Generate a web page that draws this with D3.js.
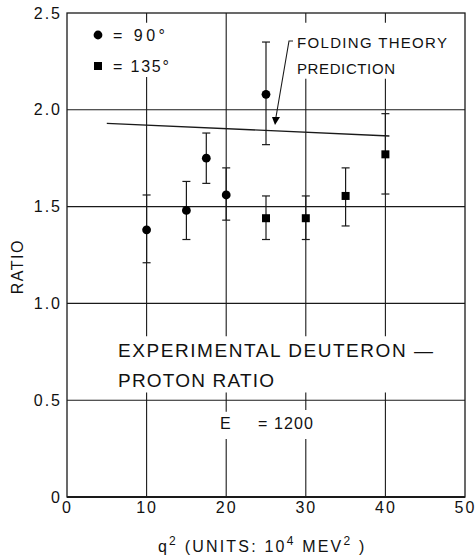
<!DOCTYPE html>
<html>
<head>
<meta charset="utf-8">
<script src="https://cdn.jsdelivr.net/npm/d3@7"></script>
<style>
  body { margin: 0; background: #fff; }
  svg { display: block; }
  text { font-family: "Liberation Sans", Arial, sans-serif; fill: #111; }
</style>
</head>
<body>
<div id="chart"></div>
<script>
// 90 degree points (circles)
var q2_90 = [10, 15, 17.5, 20, 25];
var ratio_90 = [1.38, 1.48, 1.75, 1.56, 2.08];
var lo_90 = [1.21, 1.33, 1.62, 1.43, 1.82];
var hi_90 = [1.56, 1.63, 1.88, 1.70, 2.35];

// 135 degree points (squares)
var q2_135 = [25, 30, 35, 40];
var ratio_135 = [1.44, 1.44, 1.555, 1.77];
var lo_135 = [1.33, 1.33, 1.40, 1.565];
var hi_135 = [1.555, 1.555, 1.70, 1.98];

// folding theory prediction
var theory_q2 = [5, 40.5];
var theory_ratio = [1.93, 1.865];

var xTicks = [0, 10, 20, 30, 40, 50];
var yTicks = [0, 0.5, 1.0, 1.5, 2.0, 2.5];
var yTickLabels = ["0", "0.5", "1.0", "1.5", "2.0", "2.5"];

var W = 475, H = 559;
var margin = {top: 13, right: 10, bottom: 62, left: 67};
var width = W - margin.left - margin.right;
var height = H - margin.top - margin.bottom;

var x = d3.scaleLinear().domain([0, 50]).range([0, width]);
var y = d3.scaleLinear().domain([0, 2.5]).range([height, 0]);

var svg = d3.select("#chart").append("svg")
    .attr("width", W)
    .attr("height", H)
  .append("g")
    .attr("transform", "translate(" + margin.left + "," + margin.top + ")");

var ink = "#1a1a1a";

// horizontal grid lines
svg.selectAll(".hgrid")
    .data([0.5, 1.0, 1.5, 2.0])
  .enter().append("line")
    .attr("x1", 0).attr("x2", width)
    .attr("y1", function(d) { return y(d); })
    .attr("y2", function(d) { return y(d); })
    .attr("stroke", ink).attr("stroke-width", 1.1);

// vertical grid lines, broken where the lettering sits
var vgrid = [
  {q: 10, segs: [[2.5, 2.45], [2.17, 0.83], [0.54, 0]]},
  {q: 20, segs: [[2.5, 0.83], [0.54, 0.44], [0.30, 0]]},
  {q: 30, segs: [[2.5, 2.45], [2.16, 0.83], [0.54, 0.45], [0.30, 0]]},
  {q: 40, segs: [[2.5, 2.45], [2.16, 0.83], [0.54, 0]]}
];
vgrid.forEach(function(g) {
  g.segs.forEach(function(s) {
    svg.append("line")
        .attr("x1", x(g.q)).attr("x2", x(g.q))
        .attr("y1", y(s[0])).attr("y2", y(s[1]))
        .attr("stroke", ink).attr("stroke-width", 1.1);
  });
});

// frame
svg.append("rect")
    .attr("x", 0).attr("y", 0)
    .attr("width", width).attr("height", height)
    .attr("fill", "none")
    .attr("stroke", ink).attr("stroke-width", 1.3);
svg.append("line")
    .attr("x1", 0).attr("x2", width)
    .attr("y1", height).attr("y2", height)
    .attr("stroke", ink).attr("stroke-width", 2.2);

// axes (labels only, the frame draws the lines)
var xAxis = svg.append("g")
    .attr("transform", "translate(0," + height + ")")
    .call(d3.axisBottom(x).tickValues(xTicks).tickSize(0).tickPadding(5));
xAxis.select(".domain").remove();
xAxis.selectAll("text")
    .style("font-size", "16px")
    .style("letter-spacing", "2px")
    .style("font-family", "'Liberation Sans', Arial, sans-serif");

var yAxis = svg.append("g")
    .call(d3.axisLeft(y).tickValues(yTicks).tickSize(0).tickPadding(5)
      .tickFormat(function(d, i) { return yTickLabels[i]; }));
yAxis.select(".domain").remove();
yAxis.selectAll("text")
    .style("font-size", "16px")
    .style("letter-spacing", "2px")
    .style("font-family", "'Liberation Sans', Arial, sans-serif");

// theory line
var line = d3.line()
    .x(function(d) { return x(d[0]); })
    .y(function(d) { return y(d[1]); });
svg.append("path")
    .datum(d3.zip(theory_q2, theory_ratio))
    .attr("d", line)
    .attr("fill", "none")
    .attr("stroke", ink).attr("stroke-width", 1.4);

// error bars
function errorBars(qs, lo, hi) {
  var cap = 4;
  qs.forEach(function(q, i) {
    var g = svg.append("g").attr("stroke", ink).attr("stroke-width", 1.2);
    g.append("line").attr("x1", x(q)).attr("x2", x(q))
        .attr("y1", y(hi[i])).attr("y2", y(lo[i]));
    g.append("line").attr("x1", x(q) - cap).attr("x2", x(q) + cap)
        .attr("y1", y(hi[i])).attr("y2", y(hi[i]));
    g.append("line").attr("x1", x(q) - cap).attr("x2", x(q) + cap)
        .attr("y1", y(lo[i])).attr("y2", y(lo[i]));
  });
}
errorBars(q2_90, lo_90, hi_90);
errorBars(q2_135, lo_135, hi_135);

svg.selectAll(".pt90")
    .data(d3.zip(q2_90, ratio_90))
  .enter().append("circle")
    .attr("cx", function(d) { return x(d[0]); })
    .attr("cy", function(d) { return y(d[1]); })
    .attr("r", 4.4)
    .attr("fill", "#000");

svg.selectAll(".pt135")
    .data(d3.zip(q2_135, ratio_135))
  .enter().append("rect")
    .attr("x", function(d) { return x(d[0]) - 4; })
    .attr("y", function(d) { return y(d[1]) - 4; })
    .attr("width", 8).attr("height", 8)
    .attr("fill", "#000");

// legend
svg.append("circle").attr("cx", 31).attr("cy", 22).attr("r", 4.4).attr("fill", "#000");
svg.append("text").attr("x", 46).attr("y", 28)
    .style("font-size", "16px")
    .attr("textLength", 52).attr("lengthAdjust", "spacing")
    .text("= 90°");
svg.append("rect").attr("x", 27).attr("y", 49).attr("width", 8).attr("height", 8).attr("fill", "#000");
svg.append("text").attr("x", 46).attr("y", 59)
    .style("font-size", "16px")
    .attr("textLength", 56).attr("lengthAdjust", "spacing")
    .text("= 135°");

// folding theory annotation
svg.append("text").attr("x", 230).attr("y", 35)
    .style("font-size", "15px")
    .attr("textLength", 150).attr("lengthAdjust", "spacing")
    .text("FOLDING THEORY");
svg.append("text").attr("x", 230).attr("y", 61)
    .style("font-size", "15px")
    .attr("textLength", 98).attr("lengthAdjust", "spacing")
    .text("PREDICTION");
svg.append("path")
    .attr("d", "M226,28 L222,28 L209,104")
    .attr("fill", "none").attr("stroke", ink).attr("stroke-width", 1.1);
svg.append("path")
    .attr("d", "M205,104 L213,104 L208,112 Z")
    .attr("fill", "#000");

// big caption
svg.append("text").attr("x", 51).attr("y", 344)
    .style("font-size", "19px")
    .attr("textLength", 315).attr("lengthAdjust", "spacing")
    .text("EXPERIMENTAL DEUTERON —");
svg.append("text").attr("x", 51).attr("y", 374)
    .style("font-size", "19px")
    .attr("textLength", 156).attr("lengthAdjust", "spacing")
    .text("PROTON RATIO");
svg.append("text").attr("x", 153).attr("y", 416)
    .style("font-size", "16px")
    .text("E");
svg.append("text").attr("x", 191).attr("y", 416)
    .style("font-size", "16px")
    .attr("textLength", 55).attr("lengthAdjust", "spacing")
    .text("= 1200");

// axis titles
svg.append("text")
    .attr("transform", "translate(-44," + y(1.19) + ") rotate(-90)")
    .attr("text-anchor", "middle")
    .style("font-size", "16px").style("letter-spacing", "1.5px")
    .text("RATIO");

var xt = svg.append("text")
    .attr("x", 91).attr("y", height + 55)
    .style("font-size", "16px").style("letter-spacing", "2.2px");
xt.append("tspan").text("q");
xt.append("tspan").attr("dy", -7).style("font-size", "12px").text("2");
xt.append("tspan").attr("dy", 7).text(" (UNITS: 10");
xt.append("tspan").attr("dy", -7).style("font-size", "12px").text("4");
xt.append("tspan").attr("dy", 7).text("  MEV");
xt.append("tspan").attr("dy", -7).style("font-size", "12px").text("2");
xt.append("tspan").attr("dy", 7).text(" )");
</script>
</body>
</html>
